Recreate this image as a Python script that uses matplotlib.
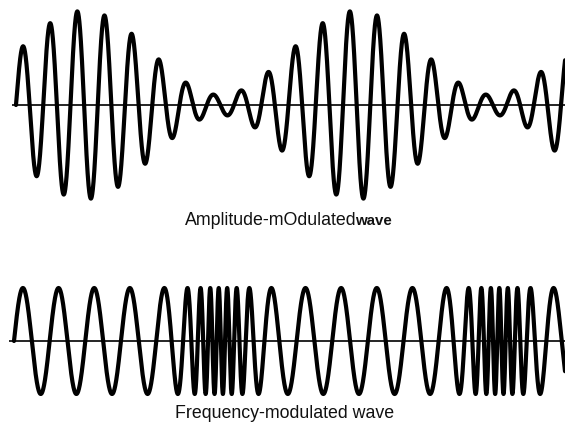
import numpy as np
import matplotlib
matplotlib.use("Agg")
import matplotlib.pyplot as plt

# ---- data / parameters ----
# time unit = one AM carrier cycle
am_carrier_cycles = 20.0        # carrier cycles drawn across the AM trace
am_mod_period = 10.0            # carrier cycles per modulation cycle
am_mod_index = 0.81             # depth of amplitude modulation

fm_f_min = 0.77                 # FM instantaneous frequency (cycles / unit), sparse part
fm_f_max = 3.30                 # FM instantaneous frequency, dense bursts
fm_burst_centers = [7.47, 17.67]
fm_burst_width = 0.80
fm_duration = 20.3

am_label = "Amplitude-mOdulated"
am_label_bold = "wave"
fm_label = "Frequency-modulated wave"

# ---- figure ----
W, H = 565, 425
fig = plt.figure(figsize=(W / 100, H / 100), dpi=100)
fig.patch.set_facecolor("white")
ppu = 27.45  # pixels per time unit (layout)

def px_axes(x0, x1, y0, y1):
    return fig.add_axes([x0 / W, 1 - y1 / H, (x1 - x0) / W, (y1 - y0) / H])

# AM wave
ax1 = px_axes(12, 565, 5, 205)
t = np.linspace(0, am_carrier_cycles + 0.3, 6000)
env = 1 + am_mod_index * np.sin(2 * np.pi * t / am_mod_period)
y_am = env * np.sin(2 * np.pi * t)
ax1.plot(t, y_am, color="black", lw=3.0, solid_capstyle="round")
ax1.axhline(0, color="black", lw=1.2)
ax1.set_xlim(-4 / ppu, 553 / ppu)
ax1.set_ylim(-100 / 52, 100 / 52)
ax1.axis("off")

# FM wave
ax2 = px_axes(9, 565, 261, 421)
t2 = np.linspace(0, fm_duration, 12000)
d = np.min(np.abs(t2[:, None] - np.array(fm_burst_centers)[None, :]), axis=1)
freq = fm_f_min + (fm_f_max - fm_f_min) * np.exp(-d ** 2 / (2 * fm_burst_width ** 2))
phase = 2 * np.pi * np.concatenate([[0], np.cumsum(0.5 * (freq[1:] + freq[:-1]) * np.diff(t2))])
y_fm = np.sin(phase)
ax2.plot(t2, y_fm, color="black", lw=3.0, solid_capstyle="round")
ax2.axhline(0, color="black", lw=1.2)
ax2.set_xlim(-5 / ppu, 551 / ppu)
ax2.set_ylim(-80 / 53, 80 / 53)
ax2.axis("off")

# labels
font = "Liberation Sans"
t1 = fig.text(185 / W, 1 - 225 / H, am_label, family=font, fontsize=12.8,
              va="baseline", ha="left", color="#111111")
fig.canvas.draw()
bb = t1.get_window_extent(fig.canvas.get_renderer())
fig.text((bb.x1 - 2) / W, 1 - 225 / H, am_label_bold, family=font, fontsize=10.8,
         fontweight="bold", va="baseline", ha="left", color="#111111")
fig.text(175 / W, 1 - 418 / H, fm_label, family=font, fontsize=12.8,
         va="baseline", ha="left", color="#111111")

fig.savefig("out.png", dpi=100, facecolor="white")
